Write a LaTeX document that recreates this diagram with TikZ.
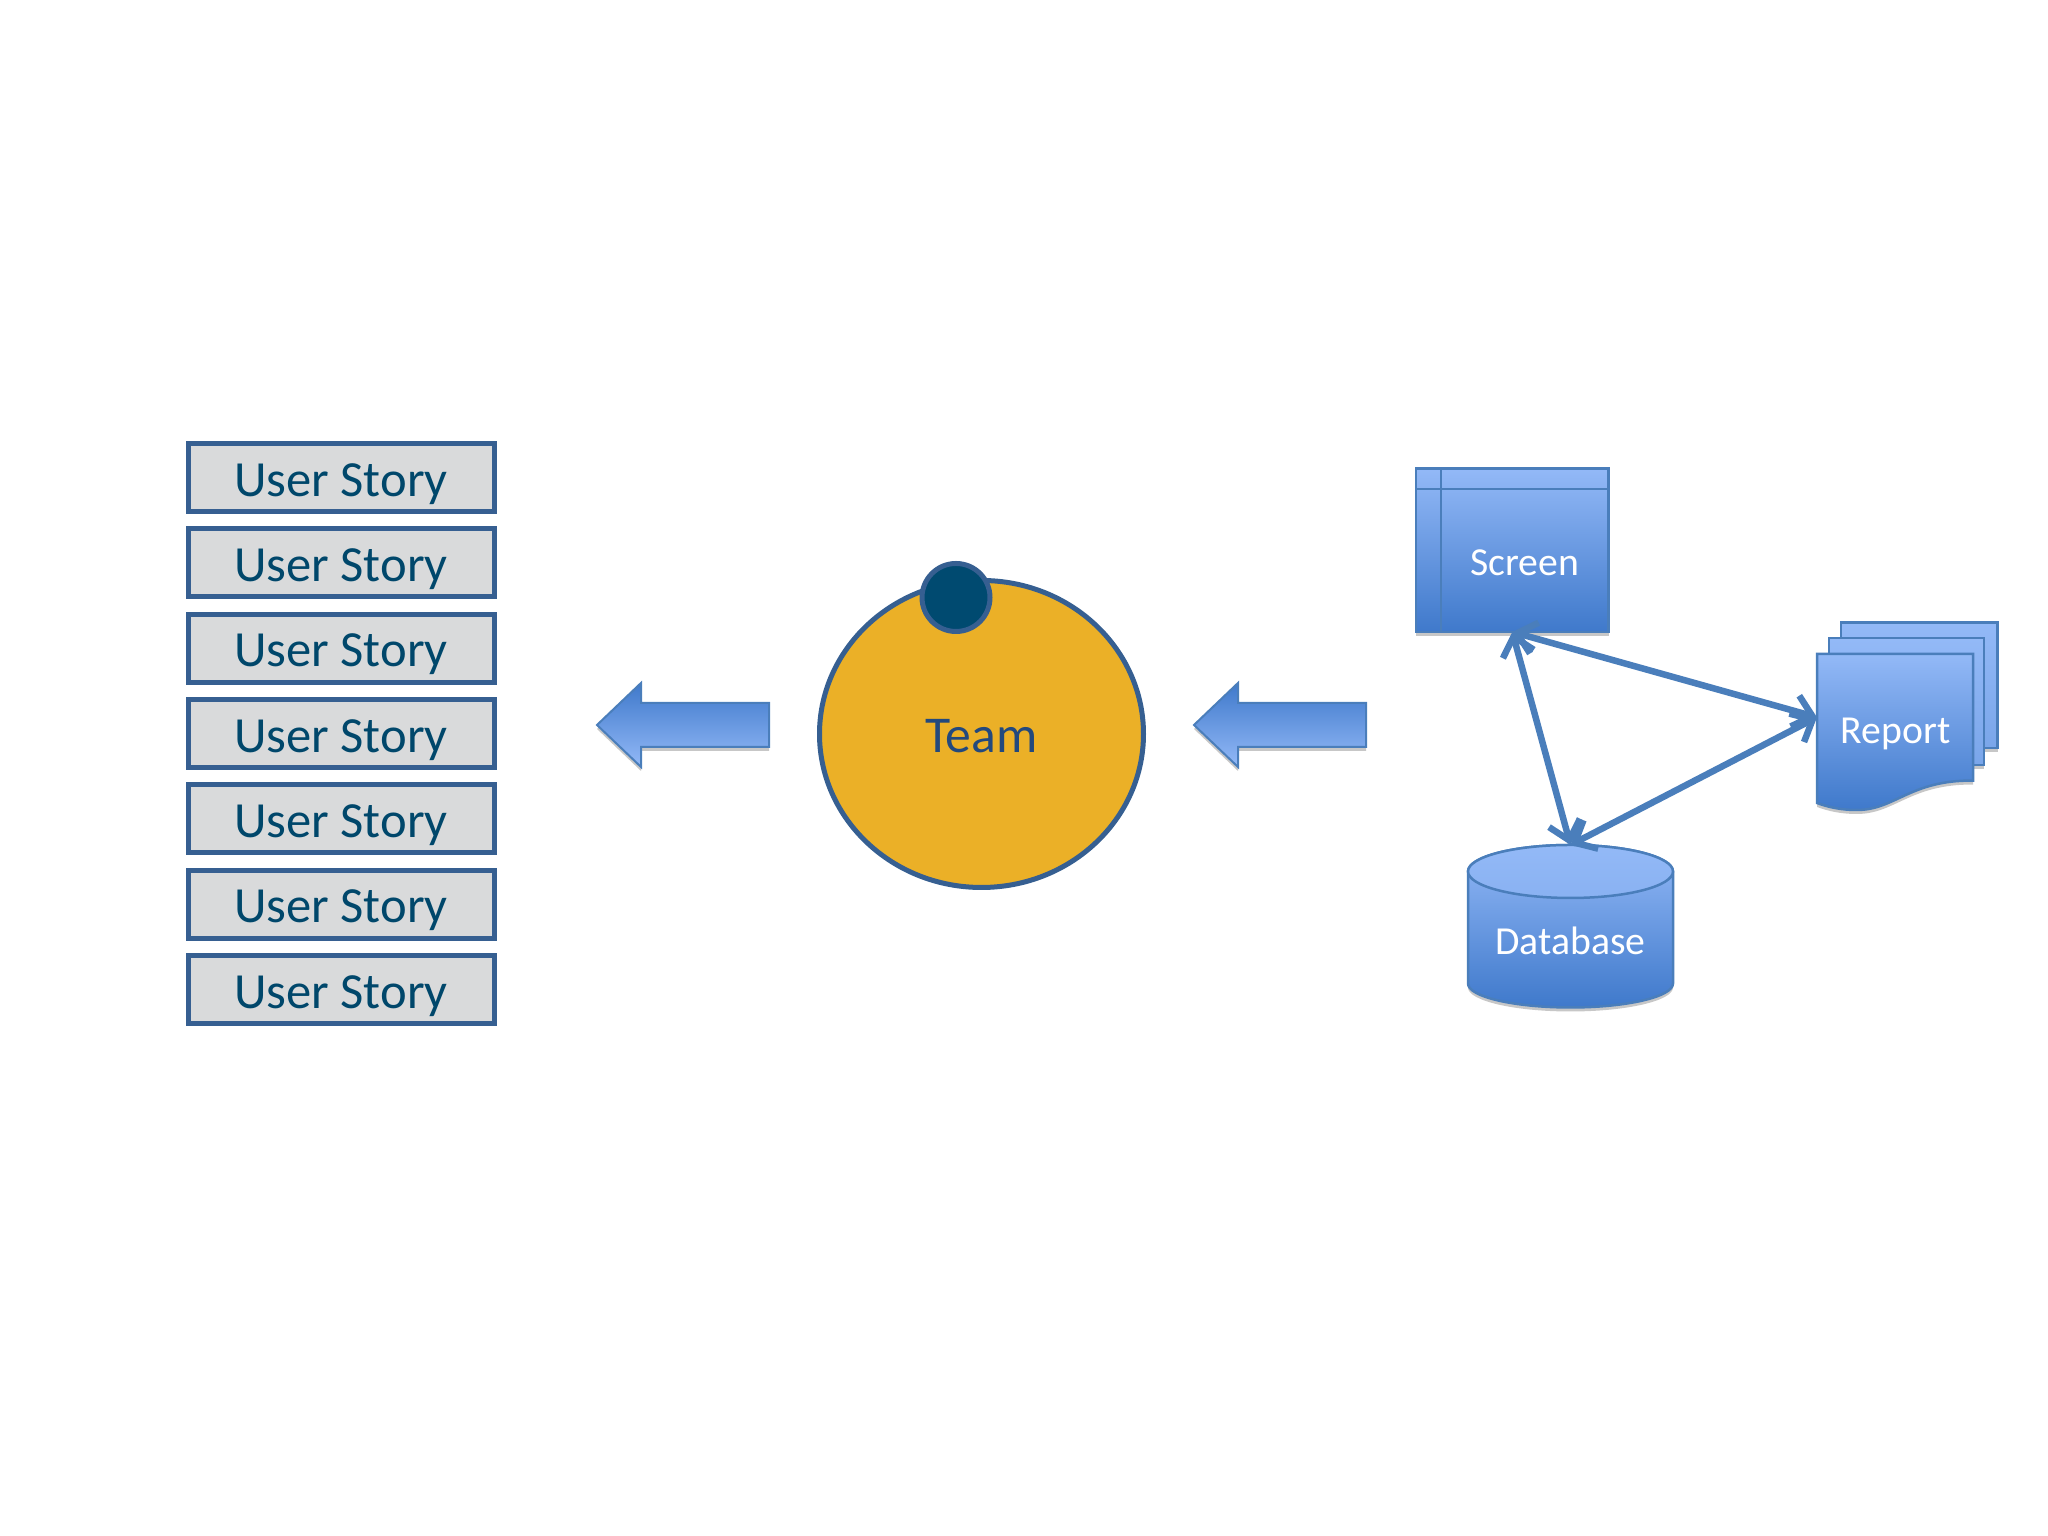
\documentclass[tikz,border=0pt]{standalone}
\usepackage{fontspec}
\setmainfont{Carlito}
\usetikzlibrary{arrows.meta,shapes.geometric,shadows}
\definecolor{storyfill}{HTML}{D9DADB}
\definecolor{storyline}{HTML}{365F91}
\definecolor{storytext}{HTML}{00476B}
\definecolor{teamfill}{HTML}{EBB027}
\definecolor{teamtext}{HTML}{23497D}
\definecolor{leadfill}{HTML}{004A70}
\definecolor{bluelight}{HTML}{93B9F7}
\definecolor{bluedark}{HTML}{3F79CB}
\definecolor{blueline}{HTML}{4A7EBB}
\tikzset{
	softshadow/.style={drop shadow={shadow xshift=0cm,shadow yshift=-.04cm,opacity=.22,fill=black}},
	story/.style={draw=storyline, fill=storyfill, line width=.05cm, minimum width=3.06cm, minimum height=.68cm, inner sep=0pt, text=storytext, font=\fontsize{14.4}{16}\selectfont, text height=10.6pt, text depth=0pt},
	bluelabel/.style={text=white, inner sep=0pt, font=\fontsize{11.3}{13}\selectfont, text height=7.7pt, text depth=0pt},
	bluebody/.style={draw=blueline, line width=.025cm, top color=bluelight, bottom color=bluedark, softshadow},
	bluepage/.style={draw=blueline, line width=.025cm, top color=bluelight, bottom color=bluelight!70!bluedark, softshadow},
	blockarrow/.style={draw=blueline, line width=.02cm, top color=bluedark, bottom color=bluelight, softshadow},
	flow/.style={draw=blueline, line width=.065cm, {Straight Barb[length=.18cm,width=.32cm]}-{Straight Barb[length=.18cm,width=.32cm]}},
}
\begin{document}
\begin{tikzpicture}
	\useasboundingbox (0,0) rectangle (20.48,15.36);

	% the stories
	\node[story] (story1) at (3.41,10.585) {User Story};
	\node[story] (story2) at (3.41,9.732) {User Story};
	\node[story] (story3) at (3.41,8.879) {User Story};
	\node[story] (story4) at (3.41,8.025) {User Story};
	\node[story] (story5) at (3.41,7.172) {User Story};
	\node[story] (story6) at (3.41,6.319) {User Story};
	\node[story] (story7) at (3.41,5.465) {User Story};

	% the block arrows
	\draw[blockarrow] (5.97,8.11) -- (6.41,8.53) -- (6.41,8.33) -- (7.69,8.33) -- (7.69,7.89) -- (6.41,7.89) -- (6.41,7.69) -- cycle;
	\draw[blockarrow] (11.94,8.11) -- (12.38,8.53) -- (12.38,8.33) -- (13.66,8.33) -- (13.66,7.89) -- (12.38,7.89) -- (12.38,7.69) -- cycle;

	% the team
	\node[ellipse, draw=storyline, fill=teamfill, line width=.05cm, minimum width=3.24cm, minimum height=3.07cm, inner sep=0pt, text=teamtext, font=\fontsize{14.7}{16}\selectfont, text height=10.6pt, text depth=0pt] (team) at (9.815,8.02) {Team};
	\node[circle, draw=storyline, fill=leadfill, line width=.05cm, minimum size=.68cm, inner sep=0pt] (lead) at (9.56,9.385) {};

	% the screen
	\node[rectangle, bluebody, minimum width=1.926cm, minimum height=1.633cm, inner sep=0pt, outer sep=0pt] (screen) at (15.123,9.857) {};
	\draw[blueline, line width=.025cm] (14.41,10.673) -- (14.41,9.04);
	\draw[blueline, line width=.025cm] (14.16,10.47) -- (16.086,10.47);
	\node[bluelabel] (screentext) at (15.245,9.745) {Screen};

	% the report, three sheets
	\draw[bluepage] (18.41,9.135) rectangle (19.976,7.88);
	\draw[bluepage] (18.29,8.98) rectangle (19.84,7.71);
	\draw[bluebody] (18.17,8.82) -- (19.73,8.82) -- (19.73,7.554) .. controls (19.1,7.56) and (18.95,7.26) .. (18.57,7.26) .. controls (18.4,7.26) and (18.28,7.29) .. (18.17,7.33) -- cycle;
	\node[minimum width=1.56cm, minimum height=1.27cm, inner sep=0pt, outer sep=0pt] (report) at (18.95,8.187) {};
	\node[bluelabel] (reporttext) at (18.955,8.06) {Report};

	% the database
	\draw[bluebody] (14.68,6.645) arc (180:0:1.025 and .265) -- (16.73,5.525) arc (0:-180:1.025 and .24) -- cycle;
	\draw[draw=blueline, line width=.025cm, top color=bluelight, bottom color=bluelight!88!bluedark] (15.705,6.645) ellipse (1.025 and .265);
	\node[minimum width=2.05cm, minimum height=1.625cm, inner sep=0pt, outer sep=0pt] (db) at (15.705,6.0975) {};
	\node[bluelabel] (dbtext) at (15.705,5.955) {Database};

	% the links
	\draw[flow] (screen.south) -- (report.west);
	\draw[flow] (screen.south) -- (db.north);
	\draw[flow] (report.west) -- (db.north);

\end{tikzpicture}
\end{document}
